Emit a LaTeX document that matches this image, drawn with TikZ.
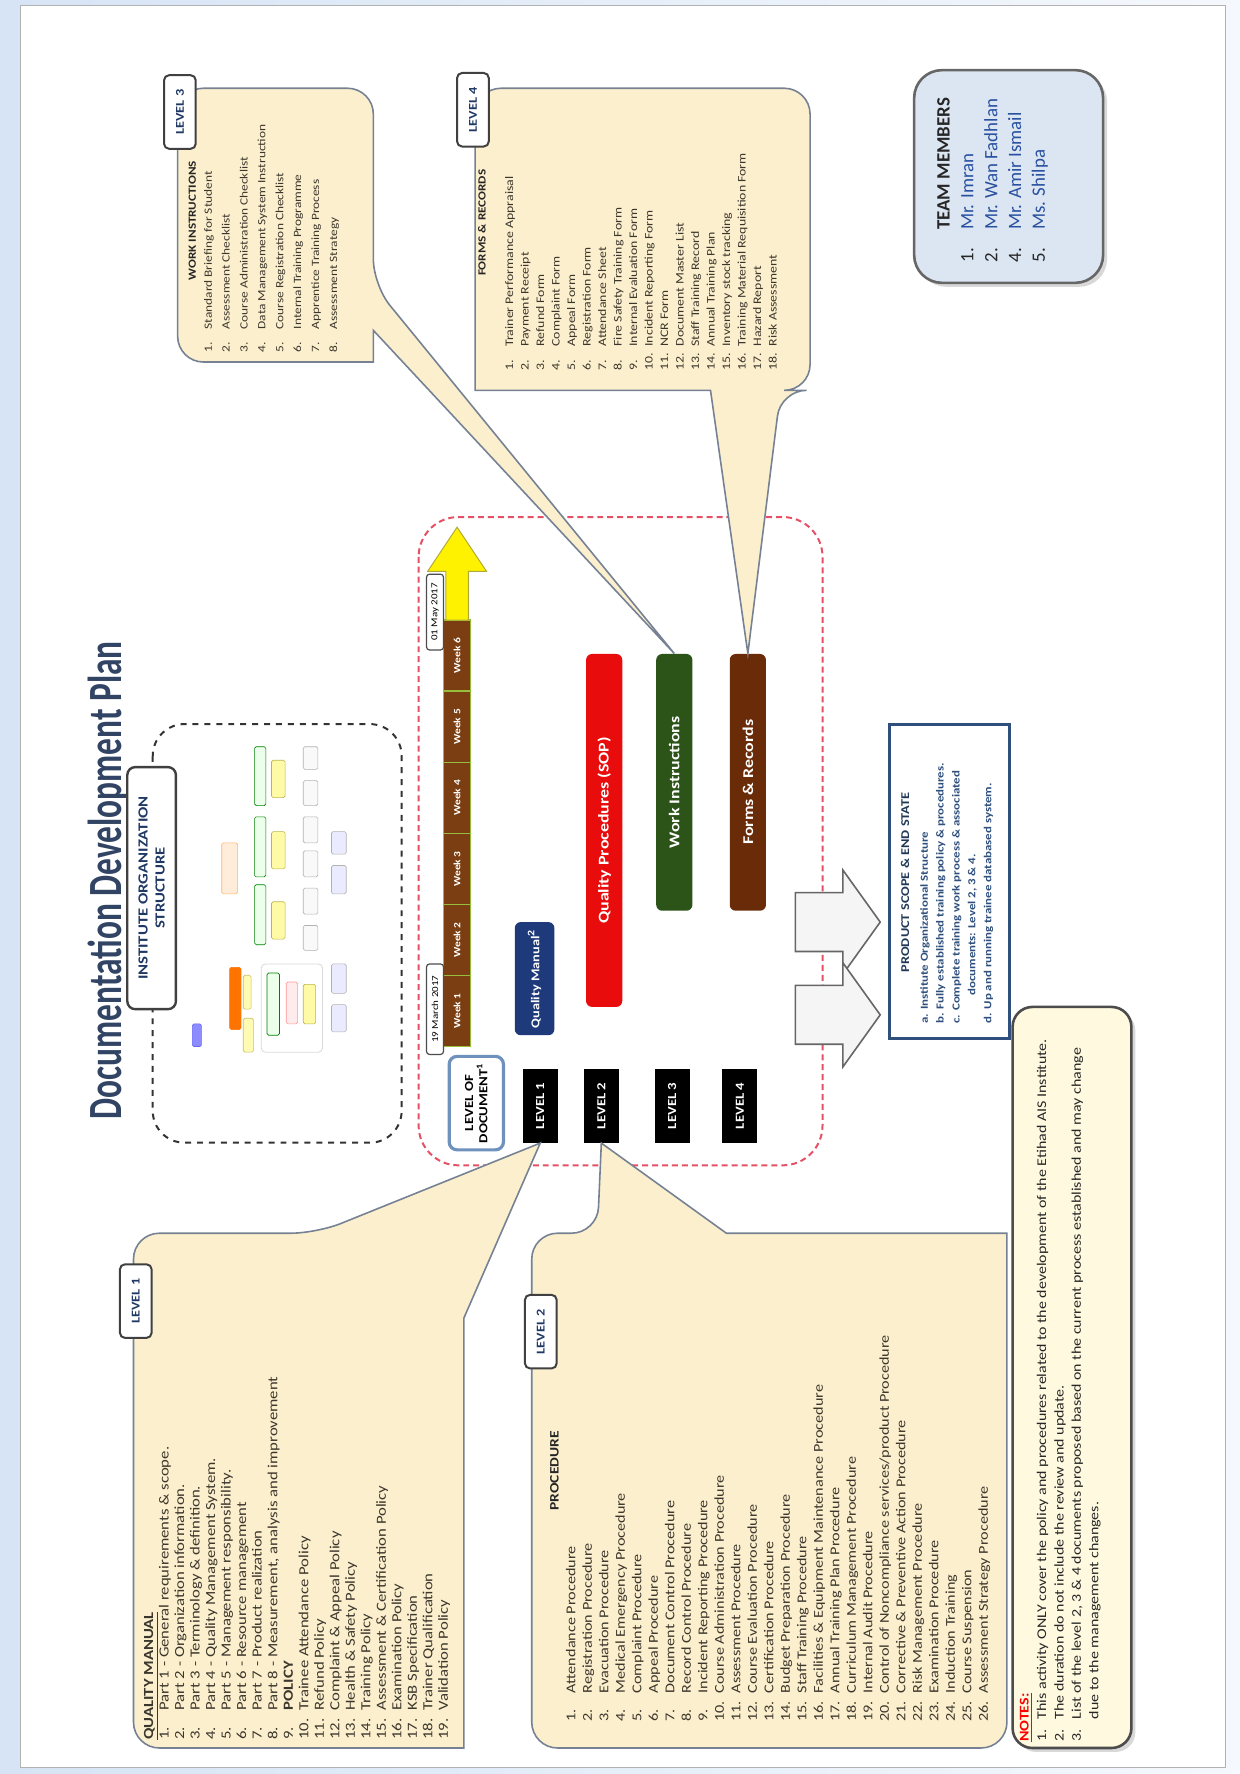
\documentclass[tikz,border=0pt]{standalone}
\usepackage{fontspec}
\setmainfont{Carlito}[FakeStretch=1.2]
\newfontfamily\titlefont{Carlito}[FakeStretch=0.7]
\newfontfamily\plainfont{Carlito}
\usetikzlibrary{positioning,shadows}
\definecolor{calloutfill}{RGB}{252,239,205}
\definecolor{calloutline}{RGB}{118,130,148}
\definecolor{titleblue}{RGB}{50,68,100}
\definecolor{orgblue}{RGB}{31,56,100}
\definecolor{weekbrown}{RGB}{122,62,18}
\definecolor{weekline}{RGB}{150,190,60}
\definecolor{sopred}{RGB}{232,12,12}
\definecolor{wigreen}{RGB}{45,84,24}
\definecolor{frbrown}{RGB}{106,44,8}
\definecolor{qmblue}{RGB}{30,58,122}
\definecolor{teamfill}{RGB}{220,230,242}
\definecolor{teamblue}{RGB}{40,80,160}
\definecolor{notefill}{RGB}{255,249,224}
\definecolor{scopeblue}{RGB}{47,80,125}
\definecolor{dashred}{RGB}{230,80,100}
\definecolor{listtext}{RGB}{60,55,45}
\definecolor{pageblue}{RGB}{214,228,245}

\newcommand{\docitem}[2]{\makebox[2.1em][l]{#1}#2}

\tikzset{
  callout/.style={fill=calloutfill, draw=calloutline, line width=0.8pt},
  lvltag/.style={rotate=90, draw=black!75, fill=white, line width=1pt, rounded corners=2.5pt,
    minimum width=1.3cm, minimum height=0.56cm, text=orgblue, font=\bfseries\fontsize{6}{7}\selectfont},
  lvlblack/.style={rotate=90, fill=black, minimum width=1.3cm, minimum height=0.62cm,
    text=white, font=\bfseries\fontsize{6.2}{7}\selectfont},
  docbar/.style={rotate=90, rounded corners=3pt, text=white, font=\bfseries\fontsize{7.5}{9}\selectfont,
    minimum height=0.64cm, minimum width=4.54cm},
  weekcell/.style={rotate=90, fill=weekbrown, draw=weekline, line width=0.8pt, minimum width=1.256cm,
    minimum height=0.48cm, text=white, font=\bfseries\fontsize{4.8}{5}\selectfont, inner sep=0pt},
  datetag/.style={rotate=90, fill=white, draw=black!70, line width=0.6pt, rounded corners=1.5pt,
    minimum height=0.3cm, inner sep=1pt, font=\fontsize{4.6}{5}\selectfont},
  listnode/.style={rotate=90, inner sep=0pt, align=left, text=listtext, anchor=north west},
  headnode/.style={rotate=90, inner sep=0pt, text=black!85, font=\bfseries\fontsize{5.5}{6}\selectfont},
  orgbox/.style={line width=0.3pt, rounded corners=0.8pt},
  grayarrow/.style={fill=gray!8, draw=black!60, line width=0.8pt},
}

\begin{document}
\begin{tikzpicture}[x=0.02cm, y=-0.02cm]

% page
\fill[left color=pageblue, right color=pageblue!25] (0,0) rectangle (1096,1568);
\useasboundingbox (0,0) rectangle (1096,1568);
\filldraw[fill=white, draw=gray!60] (18,5) rectangle (1083,1562);

% title
\node[rotate=90, text=titleblue, font=\titlefont\bfseries\fontsize{24}{28}\selectfont] (title) at (96,778)
  {Documentation Development Plan};

% organization structure
\draw[dashed, gray!40!black, line width=1pt, rounded corners=16pt] (135,640) rectangle (355,1010);
\foreach \xa/\ya/\xb/\yb/\cf/\cd in {
  170/905/178/925/blue!45/blue!60,
  196/745/210/790/orange!15/orange!60,
  203/855/213/910/orange!90!red/orange!90!red,
  215/862/222/892/yellow!30/olive!50,
  215/900/224/930/yellow!30/olive!50,
  225/660/235/712/green!8/green!50!black,
  225/722/235/775/green!8/green!50!black,
  225/782/235/835/green!8/green!50!black,
  240/672/252/705/yellow!35/olive!60,
  240/735/252/768/yellow!35/olive!60,
  240/797/252/830/yellow!35/olive!60,
  236/860/247/915/green!8/green!50!black,
  253/868/263/905/red!8/red!40,
  268/870/279/905/yellow!35/olive!60,
  268/660/281/680/gray!5/gray!60,
  268/690/281/712/gray!5/gray!60,
  268/722/281/745/gray!5/gray!60,
  268/752/281/775/gray!5/gray!60,
  268/785/281/808/gray!5/gray!60,
  268/818/281/840/gray!5/gray!60,
  293/735/306/755/blue!8/gray!60,
  293/765/306/790/blue!8/gray!60,
  293/852/306/878/blue!8/gray!60,
  293/888/306/912/blue!8/gray!60}
  \draw[orgbox, fill=\cf, draw=\cd] (\xa,\ya) rectangle (\xb,\yb);
\draw[gray!30, line width=0.4pt, rounded corners=2pt] (231,852) rectangle (285,930);
\node[rotate=90, draw=black!75, fill=white, line width=1.2pt, rounded corners=4pt, minimum width=4.28cm,
  minimum height=0.86cm, align=center, text=orgblue, font=\bfseries\fontsize{7}{8.5}\selectfont]
  (orglabel) at (134,785) {INSTITUTE ORGANIZATION\\STRUCTURE};

% plan area
\draw[dashred, line width=1pt, dash pattern=on 3pt off 2pt, rounded corners=20pt] (370,457) rectangle (727,1030);

% timeline
\foreach \i in {1,...,6}
  \node[weekcell] (week\i) at (404,{925-(\i-0.5)*62.8}) {Week \i};
\draw[fill=yellow, draw=olive!70, line width=0.5pt] (394,548) -- (394,505) -- (378,505) -- (404,466)
  -- (430,505) -- (414,505) -- (414,548) -- cycle;
\node[datetag, minimum width=1.6cm] (start) at (384.5,892) {19 March 2017};
\node[datetag, minimum width=1.34cm] (finish) at (384.5,541) {01 May 2017};

% level of document
\node[rotate=90, draw={rgb,255:red,110;green,145;blue,190}, fill=white, line width=1.6pt, rounded corners=4pt,
  minimum width=1.56cm, minimum height=0.96cm, align=center, font=\bfseries\fontsize{6.2}{7.2}\selectfont]
  (lod) at (421,975) {LEVEL OF\\DOCUMENT\textsuperscript{1}};
\node[lvlblack] (lvl1) at (477.5,977.5) {LEVEL 1};
\node[lvlblack] (lvl2) at (531.5,977.5) {LEVEL 2};
\node[lvlblack] (lvl3) at (594,977.5) {LEVEL 3};
\node[lvlblack] (lvl4) at (654,977.5) {LEVEL 4};

\node[docbar, fill=qmblue, minimum width=2cm, minimum height=0.7cm, font=\bfseries\fontsize{6}{7}\selectfont]
  (qm) at (472.5,865) {Quality Manual\textsuperscript{2}};
\node[docbar, fill=sopred, minimum width=6.24cm] (sop) at (534,734) {Quality Procedures (SOP)};
\node[docbar, fill=wigreen] (wi) at (596,691.5) {Work Instructions};
\node[docbar, fill=frbrown] (fr) at (661,691.5) {Forms \& Records};

% callouts
\draw[callout] (118,1300) [rounded corners=13pt] -- (118,1090) -- (280,1090) [sharp corners] -- (lvl1.west)
  -- (410,1165) -- (410,1545) [rounded corners=13pt] -- (118,1545) -- cycle;
\draw[callout] (470,1300) [rounded corners=13pt] -- (470,1090) -- (528,1090) [sharp corners] -- (lvl2.west)
  -- (642,1090) -- (890,1090) [rounded corners=13pt] -- (890,1545) -- (470,1545) -- cycle;
\draw[callout] (157,200) [rounded corners=13pt] -- (157,78) -- (330,78) -- (330,252) [sharp corners] -- (wi.east)
  -- (330,292) -- (330,320) [rounded corners=13pt] -- (157,320) -- cycle;
\draw[callout] (420,200) [rounded corners=13pt] -- (420,78) -- (716,78) -- (716,345) -- (690,345) [sharp corners]
  -- (fr.east) -- (628,345) -- (420,345) [rounded corners=13pt] -- cycle;

\node[lvltag] (tag1) at (120,1150) {LEVEL 1};
\node[lvltag] (tag2) at (478,1177) {LEVEL 2};
\node[lvltag] (tag3) at (159,99) {LEVEL 3};
\node[lvltag] (tag4) at (418,97) {LEVEL 4};

% level 1 list
\node[listnode, font=\fontsize{7}{7.8}\selectfont] (qmlist) at (127,1538) {%
  \underline{\textbf{QUALITY MANUAL}}\\
  \docitem{1.}{Part 1 - General requirements \& scope.}\\
  \docitem{2.}{Part 2 - Organization information.}\\
  \docitem{3.}{Part 3 - Terminology \& definition.}\\
  \docitem{4.}{Part 4 - Quality Management System.}\\
  \docitem{5.}{Part 5 - Management responsibility.}\\
  \docitem{6.}{Part 6 - Resource management}\\
  \docitem{7.}{Part 7 - Product realization}\\
  \docitem{8.}{Part 8 - Measurement, analysis and improvement}\\
  \docitem{9.}{\textbf{POLICY}}\\
  \docitem{10.}{Trainee Attendance Policy}\\
  \docitem{11.}{Refund Policy}\\
  \docitem{12.}{Complaint \& Appeal Policy}\\
  \docitem{13.}{Health \& Safety Policy}\\
  \docitem{14.}{Training Policy}\\
  \docitem{15.}{Assessment \& Certification Policy}\\
  \docitem{16.}{Examination Policy}\\
  \docitem{17.}{KSB Specification}\\
  \docitem{18.}{Trainer Qualification}\\
  \docitem{19.}{Validation Policy}};

% level 2 list
\node[headnode, font=\bfseries\fontsize{6.5}{7}\selectfont] (prochead) at (490,1300) {PROCEDURE};
\node[listnode, font=\fontsize{6.8}{8.3}\selectfont] (proclist) at (500,1522) {%
  \docitem{1.}{Attendance Procedure}\\
  \docitem{2.}{Registration Procedure}\\
  \docitem{3.}{Evacuation Procedure}\\
  \docitem{4.}{Medical Emergency Procedure}\\
  \docitem{5.}{Complaint Procedure}\\
  \docitem{6.}{Appeal Procedure}\\
  \docitem{7.}{Document Control Procedure}\\
  \docitem{8.}{Record Control Procedure}\\
  \docitem{9.}{Incident Reporting Procedure}\\
  \docitem{10.}{Course Administration Procedure}\\
  \docitem{11.}{Assessment Procedure}\\
  \docitem{12.}{Course Evaluation Procedure}\\
  \docitem{13.}{Certification Procedure}\\
  \docitem{14.}{Budget Preparation Procedure}\\
  \docitem{15.}{Staff Training Procedure}\\
  \docitem{16.}{Facilities \& Equipment Maintenance Procedure}\\
  \docitem{17.}{Annual Training Plan Procedure}\\
  \docitem{18.}{Curriculum Management Procedure}\\
  \docitem{19.}{Internal Audit Procedure}\\
  \docitem{20.}{Control of Noncompliance services/product Procedure}\\
  \docitem{21.}{Corrective \& Preventive Action Procedure}\\
  \docitem{22.}{Risk Management Procedure}\\
  \docitem{23.}{Examination Procedure}\\
  \docitem{24.}{Induction Training}\\
  \docitem{25.}{Course Suspension}\\
  \docitem{26.}{Assessment Strategy Procedure}};

% level 3 list
\node[headnode] (wihead) at (170,195) {WORK INSTRUCTIONS};
\node[listnode, font=\fontsize{5.6}{9}\selectfont] (wilist) at (180,312) {%
  \docitem{1.}{Standard Briefing for Student}\\
  \docitem{2.}{Assessment Checklist}\\
  \docitem{3.}{Course Administration Checklist}\\
  \docitem{4.}{Data Management System Instruction}\\
  \docitem{5.}{Course Registration Checklist}\\
  \docitem{6.}{Internal Training Programme}\\
  \docitem{7.}{Apprentice Training Process}\\
  \docitem{8.}{Assessment Strategy}};

% level 4 list
\node[headnode] (frhead) at (426,197) {FORMS \& RECORDS};
\node[listnode, font=\fontsize{5.8}{7.8}\selectfont] (frlist) at (446,328) {%
  \docitem{1.}{Trainer Performance Appraisal}\\
  \docitem{2.}{Payment Receipt}\\
  \docitem{3.}{Refund Form}\\
  \docitem{4.}{Complaint Form}\\
  \docitem{5.}{Appeal Form}\\
  \docitem{6.}{Registration Form}\\
  \docitem{7.}{Attendance Sheet}\\
  \docitem{8.}{Fire Safety Training Form}\\
  \docitem{9.}{Internal Evaluation Form}\\
  \docitem{10.}{Incident Reporting Form}\\
  \docitem{11.}{NCR Form}\\
  \docitem{12.}{Document Master List}\\
  \docitem{13.}{Staff Training Record}\\
  \docitem{14.}{Annual Training Plan}\\
  \docitem{15.}{Inventory stock tracking}\\
  \docitem{16.}{Training Material Requisition Form}\\
  \docitem{17.}{Hazard Report}\\
  \docitem{18.}{Risk Assessment}};

% team members
\draw[fill=teamfill, draw=black!60, line width=1.3pt, rounded corners=14pt,
  drop shadow={shadow xshift=2pt, shadow yshift=-2pt, opacity=0.3}] (808,62) rectangle (975,250);
\node[listnode, text=black!85, font=\plainfont\fontsize{9.5}{12}\selectfont] (team) at (828,232) {%
  \makebox[1.7em][l]{}\textbf{TEAM MEMBERS}\\
  \makebox[1.7em][l]{1.}\textcolor{teamblue}{Mr. Imran}\\
  \makebox[1.7em][l]{2.}\textcolor{teamblue}{Mr. Wan Fadhlan}\\
  \makebox[1.7em][l]{4.}\textcolor{teamblue}{Mr. Amir Ismail}\\
  \makebox[1.7em][l]{5.}\textcolor{teamblue}{Ms. Shilpa}};

% product scope
\foreach \c in {815,897}
  \draw[grayarrow] (703,{\c-26}) -- (745,{\c-26}) -- (745,{\c-46}) -- (778,\c) -- (745,{\c+46})
    -- (745,{\c+26}) -- (703,{\c+26}) -- cycle;
\draw[fill=white, draw=scopeblue, line width=1.5pt] (786,640) rectangle (892,918);
\node[headnode, text=scopeblue!70!black, font=\bfseries\fontsize{6}{7}\selectfont] (scopehead) at (800,780)
  {PRODUCT SCOPE \& END STATE};
\node[listnode, text=scopeblue, font=\bfseries\fontsize{5.4}{8}\selectfont] (scopelist) at (813,905) {%
  a. Institute Organizational Structure\\
  b. Fully established training policy \& procedures.\\
  c. Complete training work process \& associated\\
  \hspace*{2.6em}documents: Level 2, 3 \& 4.\\
  d. Up and running trainee databased system.};

% notes
\draw[fill=notefill, draw=black!70, line width=1.3pt, rounded corners=10pt,
  drop shadow={shadow xshift=2pt, shadow yshift=-2pt, opacity=0.3}] (895,890) rectangle (1000,1545);
\node[listnode, text=black!85, font=\fontsize{6.7}{8.8}\selectfont] (notes) at (901,1540) {%
  \textcolor{red}{\underline{\textbf{NOTES:}}}\\
  \makebox[1.7em][l]{1.}This activity ONLY cover the policy and procedures related to the development of the Etihad AIS Institute.\\
  \makebox[1.7em][l]{2.}The duration do not include the review and update.\\
  \makebox[1.7em][l]{3.}List of the level 2, 3 \& 4 documents proposed based on the current process established and may change\\
  \makebox[1.7em][l]{}due to the management changes.};

\end{tikzpicture}
\end{document}
